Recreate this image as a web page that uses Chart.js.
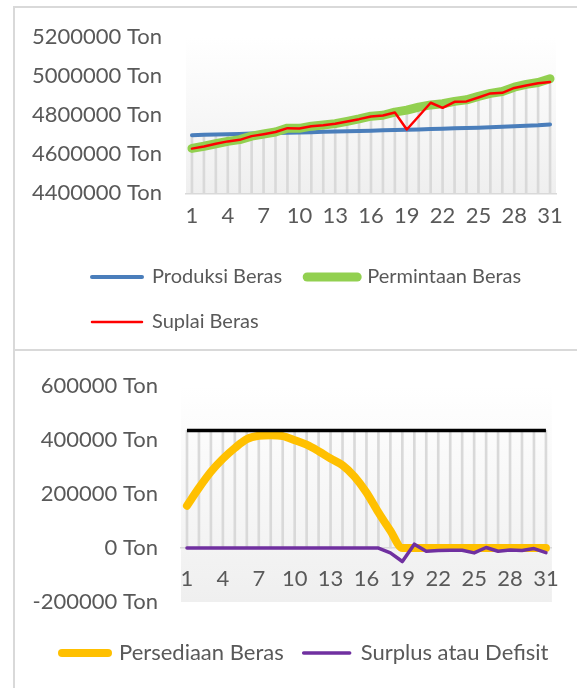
<!DOCTYPE html>
<html>
<head>
<meta charset="utf-8">
<script src="https://cdn.jsdelivr.net/npm/chart.js@4.4.1/dist/chart.umd.min.js"></script>
<style>
  html, body { margin: 0; padding: 0; background: #ffffff; width: 577px; height: 688px; overflow: hidden; }
  .panel { position: absolute; left: 0; width: 577px; }
  #panelAtas { top: 0; height: 350px; }
  #panelBawah { top: 350px; height: 338px; }
  .bingkai { position: absolute; left: 13px; width: 620px; border-left: 2px solid #d9d9d9; border-top: 2px solid #d9d9d9; pointer-events: none; }
</style>
</head>
<body>
<div class="panel" id="panelAtas"><canvas id="grafikAtas" width="577" height="350"></canvas></div>
<div class="panel" id="panelBawah"><canvas id="grafikBawah" width="577" height="338"></canvas></div>
<div class="bingkai" style="top:6px; height:343px;"></div>
<div class="bingkai" style="top:349px; height:400px;"></div>
<script>
// Hari ke-1 sampai ke-31
const hari = [1, 2, 3, 4, 5, 6, 7, 8, 9, 10, 11, 12, 13, 14, 15, 16, 17, 18, 19, 20, 21, 22, 23, 24, 25, 26, 27, 28, 29, 30, 31];
const hariBerlabel = [1, 4, 7, 10, 13, 16, 19, 22, 25, 28, 31];

// Grafik atas (Ton)
const produksiBeras = [4698000, 4700000, 4701500, 4703000, 4704500, 4706000, 4707500, 4709000, 4710500, 4712000,
  4713500, 4715000, 4716500, 4718000, 4719500, 4721000, 4722500, 4724000, 4726000, 4727500,
  4729000, 4731000, 4733000, 4734500, 4736000, 4738000, 4741000, 4744000, 4746500, 4749000, 4753000];
const permintaanBeras = [4630000, 4641000, 4654000, 4666000, 4675000, 4693000, 4704000, 4714000, 4734000, 4733000,
  4744000, 4750000, 4757000, 4769000, 4781000, 4795000, 4800000, 4816000, 4826000, 4842000,
  4853000, 4859000, 4871000, 4879000, 4897000, 4912000, 4922000, 4944000, 4958000, 4968000, 4987000];
const suplaiBeras = [4629000, 4640000, 4654000, 4666000, 4674000, 4693000, 4703000, 4714000, 4734000, 4732000,
  4744000, 4749000, 4756000, 4768000, 4780000, 4794000, 4799000, 4814000, 4727000, 4795000,
  4864000, 4838000, 4869000, 4871000, 4891000, 4912000, 4915000, 4940000, 4952000, 4964000, 4971000];
const tickAtas = [4400000, 4600000, 4800000, 5000000, 5200000];

// Grafik bawah (Ton)
const persediaanBeras = [157000, 223000, 283000, 331000, 371000, 404000, 416000, 418000, 415000, 400000,
  383000, 359000, 332000, 307000, 265000, 206000, 132000, 64000, 0, 0,
  0, 0, 0, 0, 0, 0, 0, 0, 0, 0, 0];
const surplusDefisit = [0, 0, 0, 0, 0, 0, 0, 0, 0, 0,
  0, 0, 0, 0, 0, 0, 0, -18000, -50000, 14500,
  -12000, -9500, -8000, -8000, -18000, 2000, -12000, -7000, -9000, -2000, -17000];
const batasPersediaan = [436000, 436000, 436000, 436000, 436000, 436000, 436000, 436000, 436000, 436000,
  436000, 436000, 436000, 436000, 436000, 436000, 436000, 436000, 436000, 436000,
  436000, 436000, 436000, 436000, 436000, 436000, 436000, 436000, 436000, 436000, 436000];
const tickBawah = [-200000, 0, 200000, 400000, 600000];

const WARNA_TEKS = '#595959';
const WARNA_GARIS_BANTU = '#d9d9d9';

Chart.defaults.font.family = "Lato, 'Open Sans', sans-serif";
Chart.defaults.color = WARNA_TEKS;

// Latar area plot: gradasi putih ke abu-abu muda
const latarArea = {
  id: 'latarArea',
  beforeDraw(chart) {
    const { ctx, chartArea: a } = chart;
    const g = ctx.createLinearGradient(0, a.top, 0, a.bottom);
    g.addColorStop(0, '#ffffff');
    g.addColorStop(1, '#efefef');
    ctx.save();
    ctx.fillStyle = g;
    ctx.fillRect(a.left, a.top, a.right - a.left, a.bottom - a.top);
    ctx.restore();
  }
};

// Menggeser kotak legenda setelah tata letak dihitung
const posisiLegenda = {
  id: 'posisiLegenda',
  afterLayout(chart, args, opts) {
    const lg = chart.legend;
    if (!lg) return;
    if (opts.kiri !== undefined) lg.left = opts.kiri;
    if (opts.kanan !== undefined) lg.right = opts.kanan;
    if (opts.turun) { lg.top += opts.turun; lg.bottom += opts.turun; }
  }
};

// Legenda berupa potongan garis dengan ujung bulat
function labelLegenda(chart) {
  return Chart.defaults.plugins.legend.labels.generateLabels(chart)
    .filter(item => !chart.data.datasets[item.datasetIndex].tanpaLegenda)
    .map(item => {
      const ds = chart.data.datasets[item.datasetIndex];
      return Object.assign(item, {
        lineWidth: ds.borderWidth,
        strokeStyle: ds.borderColor,
        lineCap: 'round',
        pointStyle: 'line'
      });
    });
}

function opsiLegenda(ukuranHuruf, jarak, panjangGaris) {
  return {
    position: 'bottom',
    align: 'start',
    labels: {
      usePointStyle: true,
      pointStyle: 'line',
      pointStyleWidth: panjangGaris,
      padding: jarak,
      color: WARNA_TEKS,
      font: { size: ukuranHuruf },
      generateLabels: labelLegenda,
      sort: (a, b) => a.datasetIndex - b.datasetIndex
    }
  };
}

function garis(label, data, warna, tebal, urutan, ekstra) {
  return Object.assign({
    type: 'line', label, data,
    borderColor: warna, backgroundColor: warna,
    borderWidth: tebal, order: urutan,
    pointRadius: 0, pointHoverRadius: 0,
    tension: 0, borderCapStyle: 'round', borderJoinStyle: 'round',
    fill: false
  }, ekstra || {});
}

// Garis tegak dari nilai tertinggi tiap hari ke sumbu
function garisTegak(dasar, puncak) {
  return {
    type: 'bar', label: '', tanpaLegenda: true,
    data: hari.map((_, i) => [dasar, puncak[i]]),
    backgroundColor: WARNA_GARIS_BANTU, borderWidth: 0,
    barThickness: 2, grouped: false, order: 9
  };
}

const tickX = (padding) => ({
  autoSkip: false, maxRotation: 0, minRotation: 0, padding,
  font: { size: 22 }, color: WARNA_TEKS,
  callback: (v, i) => (hariBerlabel.includes(hari[i]) ? String(hari[i]) : '')
});

const tickY = (padding) => ({
  padding, font: { size: 22 }, color: WARNA_TEKS,
  callback: v => v + ' Ton'
});

// ---------- Grafik atas ----------
const puncakAtas = hari.map((_, i) => Math.max(produksiBeras[i], permintaanBeras[i], suplaiBeras[i]));

new Chart(document.getElementById('grafikAtas'), {
  type: 'line',
  data: {
    labels: hari,
    datasets: [
      garis('Produksi Beras', produksiBeras, '#4a7ebb', 4, 3),
      garis('Permintaan Beras', permintaanBeras, '#92d050', 9, 2),
      garis('Suplai Beras', suplaiBeras, '#ff0000', 2.5, 1),
      garisTegak(tickAtas[0], puncakAtas)
    ]
  },
  options: {
    responsive: false, animation: false, devicePixelRatio: 1,
    layout: { padding: { left: 20, right: 21, top: 36.7, bottom: 8 } },
    plugins: {
      legend: opsiLegenda(20, 25, 50),
      posisiLegenda: { kiri: 67 },
      tooltip: { enabled: false }
    },
    scales: {
      x: {
        type: 'category', offset: true,
        grid: { display: false, drawTicks: false },
        border: { display: true, color: WARNA_GARIS_BANTU, width: 1.5 },
        ticks: tickX(9.5),
        afterFit: s => { s.height = 48.7; }
      },
      y: {
        min: tickAtas[0], max: tickAtas[tickAtas.length - 1],
        grid: { display: false, drawTicks: false },
        border: { display: false },
        afterBuildTicks: s => { s.ticks = tickAtas.map(v => ({ value: v })); },
        afterFit: s => { s.width = 166; },
        ticks: tickY(24)
      }
    }
  },
  plugins: [latarArea, posisiLegenda]
});

// ---------- Grafik bawah ----------
new Chart(document.getElementById('grafikBawah'), {
  type: 'line',
  data: {
    labels: hari,
    datasets: [
      garis('Persediaan Beras', persediaanBeras, '#ffc000', 8, 3, { cubicInterpolationMode: 'monotone' }),
      garis('Surplus atau Defisit', surplusDefisit, '#7030a0', 3.5, 1),
      garis('', batasPersediaan, '#000000', 3.5, 2, { tanpaLegenda: true, borderCapStyle: 'butt' }),
      garisTegak(0, batasPersediaan)
    ]
  },
  options: {
    responsive: false, animation: false, devicePixelRatio: 1,
    layout: { padding: { left: 20, right: 19.3, top: 30.7, bottom: 34 } },
    plugins: {
      legend: opsiLegenda(22, 20, 46),
      posisiLegenda: { kiri: 42, kanan: 577, turun: 20 },
      tooltip: { enabled: false }
    },
    scales: {
      x: {
        type: 'category', offset: true,
        position: { y: 0 },
        grid: { display: false, drawTicks: false },
        border: { display: true, color: WARNA_GARIS_BANTU, width: 1.5 },
        ticks: tickX(18)
      },
      y: {
        min: tickBawah[0], max: tickBawah[tickBawah.length - 1],
        grid: { display: false, drawTicks: false },
        border: { display: false },
        afterBuildTicks: s => { s.ticks = tickBawah.map(v => ({ value: v })); },
        afterFit: s => { s.width = 161; },
        ticks: tickY(23)
      }
    }
  },
  plugins: [latarArea, posisiLegenda]
});
</script>
</body>
</html>
